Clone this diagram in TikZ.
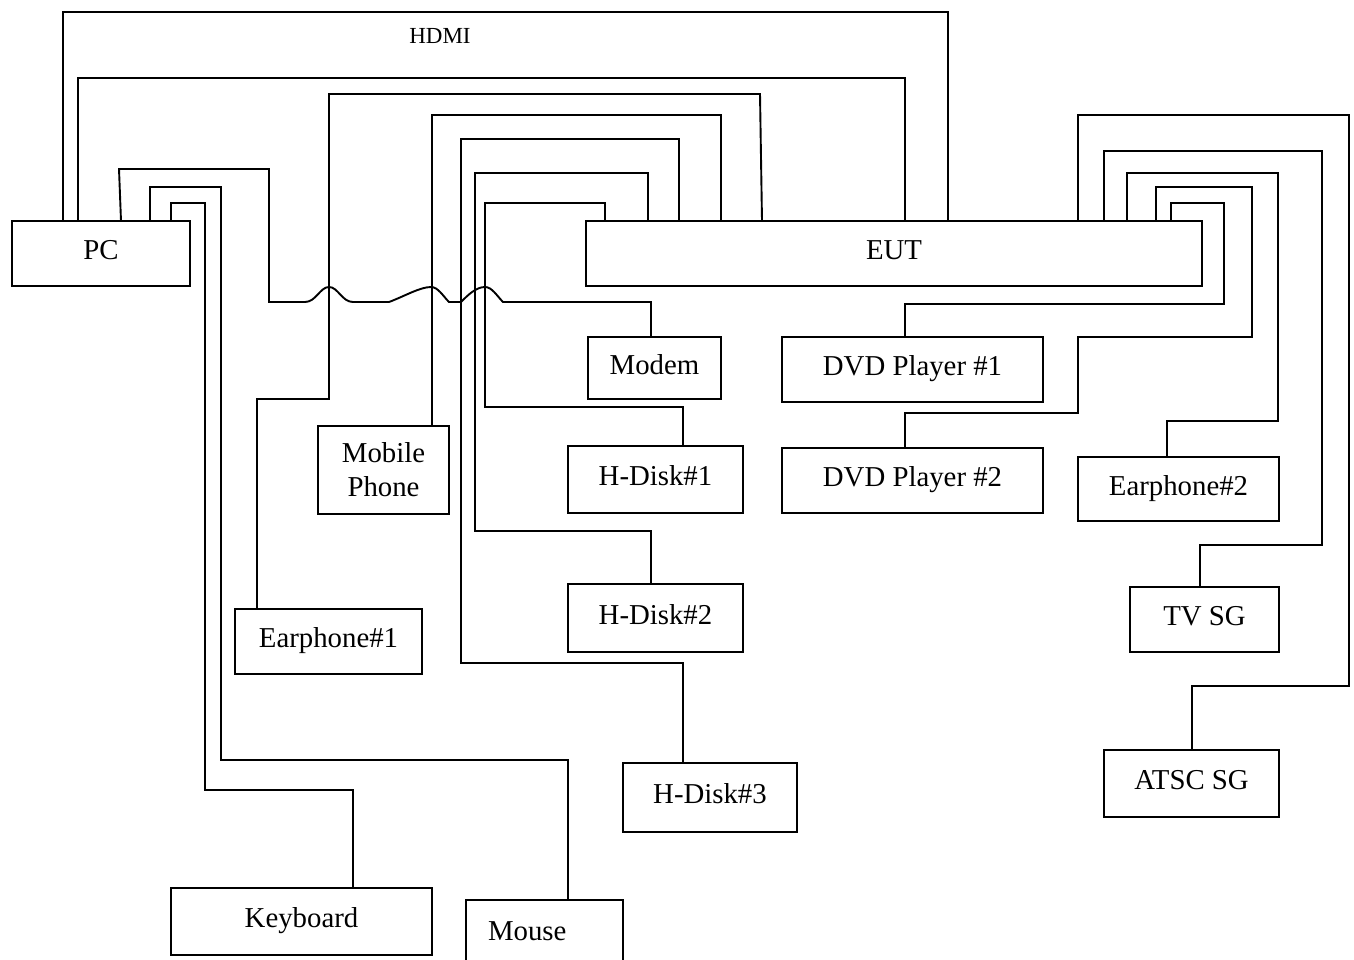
\documentclass[tikz,border=0pt]{standalone}
\usepackage{fontspec}
\setmainfont{Liberation Serif}
\begin{document}
\begin{tikzpicture}[x=1pt,y=-1pt,
  wire/.style={line width=1.4pt, line join=miter},
  slantwire/.style={wire, line width=1.9pt},
  boxbase/.style={draw, line width=1.4pt, inner sep=0pt, outer sep=0pt, font=\fontsize{28.8}{34}\selectfont},
  box/.style={boxbase, text height=20pt, text depth=8pt}]
\clip (0,0) rectangle (1354,959);
% boxes
\node[box, minimum width=178pt, minimum height=65pt] (pc) at (101,253.5) {PC};
\node[box, minimum width=616pt, minimum height=65pt] (eut) at (894,253.5) {EUT};
\node[box, minimum width=133pt, minimum height=62pt] (modem) at (654.5,368) {Modem};
\node[box, minimum width=261pt, minimum height=65pt] (dvd1) at (912.5,369.5) {DVD Player \#1};
\node[box, minimum width=261pt, minimum height=65pt] (dvd2) at (912.5,480.5) {DVD Player \#2};
\node[boxbase, align=center, minimum width=131pt, minimum height=88pt, text depth=2pt] (mobile) at (383.5,470) {Mobile\\Phone};
\node[box, minimum width=175pt, minimum height=67pt] (hd1) at (655.5,479.5) {H-Disk\#1};
\node[box, minimum width=201pt, minimum height=64pt] (eph2) at (1178.5,489) {Earphone\#2};
\node[box, minimum width=175pt, minimum height=68pt] (hd2) at (655.5,618) {H-Disk\#2};
\node[box, minimum width=187pt, minimum height=65pt] (eph1) at (328.5,641.5) {Earphone\#1};
\node[box, minimum width=149pt, minimum height=65pt] (tvsg) at (1204.5,619.5) {TV SG};
\node[box, minimum width=175pt, minimum height=67pt] (atsc) at (1191.5,783.5) {ATSC SG};
\node[box, minimum width=174pt, minimum height=69pt] (hd3) at (710,797.5) {H-Disk\#3};
\node[box, minimum width=261pt, minimum height=67pt] (kbd) at (301.5,921.5) {Keyboard};
\node[boxbase, minimum width=157pt, minimum height=62pt, text width=113pt, align=left] (mouse) at (544.5,931) {Mouse};
\node[font=\fontsize{23}{28}\selectfont] (hdmi) at (440,36) {HDMI};
% PC connections
\draw[wire] (pc.north -| 63,0) -- (63,12) -| (eut.north -| 948,0);
\draw[wire] (pc.north -| 78,0) |- (905,78) -- (eut.north -| 905,0);
\draw[slantwire] (pc.north -| 121,0) -- (119,169) -- (269,169) -- (269,302) -- (305,302)
  .. controls (316,302) and (320,287) .. (329,287)
  .. controls (338,287) and (342,302) .. (353,302) -- (389,302)
  .. controls (405,296) and (420,287) .. (431,287)
  .. controls (438,287) and (443,296) .. (449,302) -- (461,302)
  .. controls (468,295) and (476,287) .. (485,287)
  .. controls (492,287) and (497,296) .. (503,302) -- (651,302) -- (modem.north -| 651,0);
\draw[wire] (pc.north -| 150,0) |- (221,187) |- (568,760) -- (mouse.north -| 568,0);
\draw[wire] (pc.north -| 171,0) |- (205,203) |- (353,790) -- (kbd.north -| 353,0);
% left devices to EUT
\draw[slantwire] (eph1.north -| 257,0) |- (329,399) |- (760,94) -- (eut.north -| 762,0);
\draw[wire] (mobile.north -| 432,0) |- (721,115) -- (eut.north -| 721,0);
\draw[wire] (hd3.north -| 683,0) |- (461,663) |- (679,139) -- (eut.north -| 679,0);
\draw[wire] (hd2.north -| 651,0) |- (475,531) |- (648,173) -- (eut.north -| 648,0);
\draw[wire] (hd1.north -| 683,0) |- (485,407) |- (605,203) -- (eut.north -| 605,0);
% right devices
\draw[wire] (eut.north -| 1078,0) |- (1349,115) |- (1192,686) -- (atsc.north -| 1192,0);
\draw[wire] (eut.north -| 1104,0) |- (1322,151) |- (1200,545) -- (tvsg.north -| 1200,0);
\draw[wire] (eut.north -| 1127,0) |- (1278,173) |- (1167,421) -- (eph2.north -| 1167,0);
\draw[wire] (eut.north -| 1156,0) |- (1252,187) |- (1078,337) |- (905,413) -- (dvd2.north -| 905,0);
\draw[wire] (eut.north -| 1171,0) |- (1224,203) |- (905,304) -- (dvd1.north -| 905,0);
\end{tikzpicture}
\end{document}
